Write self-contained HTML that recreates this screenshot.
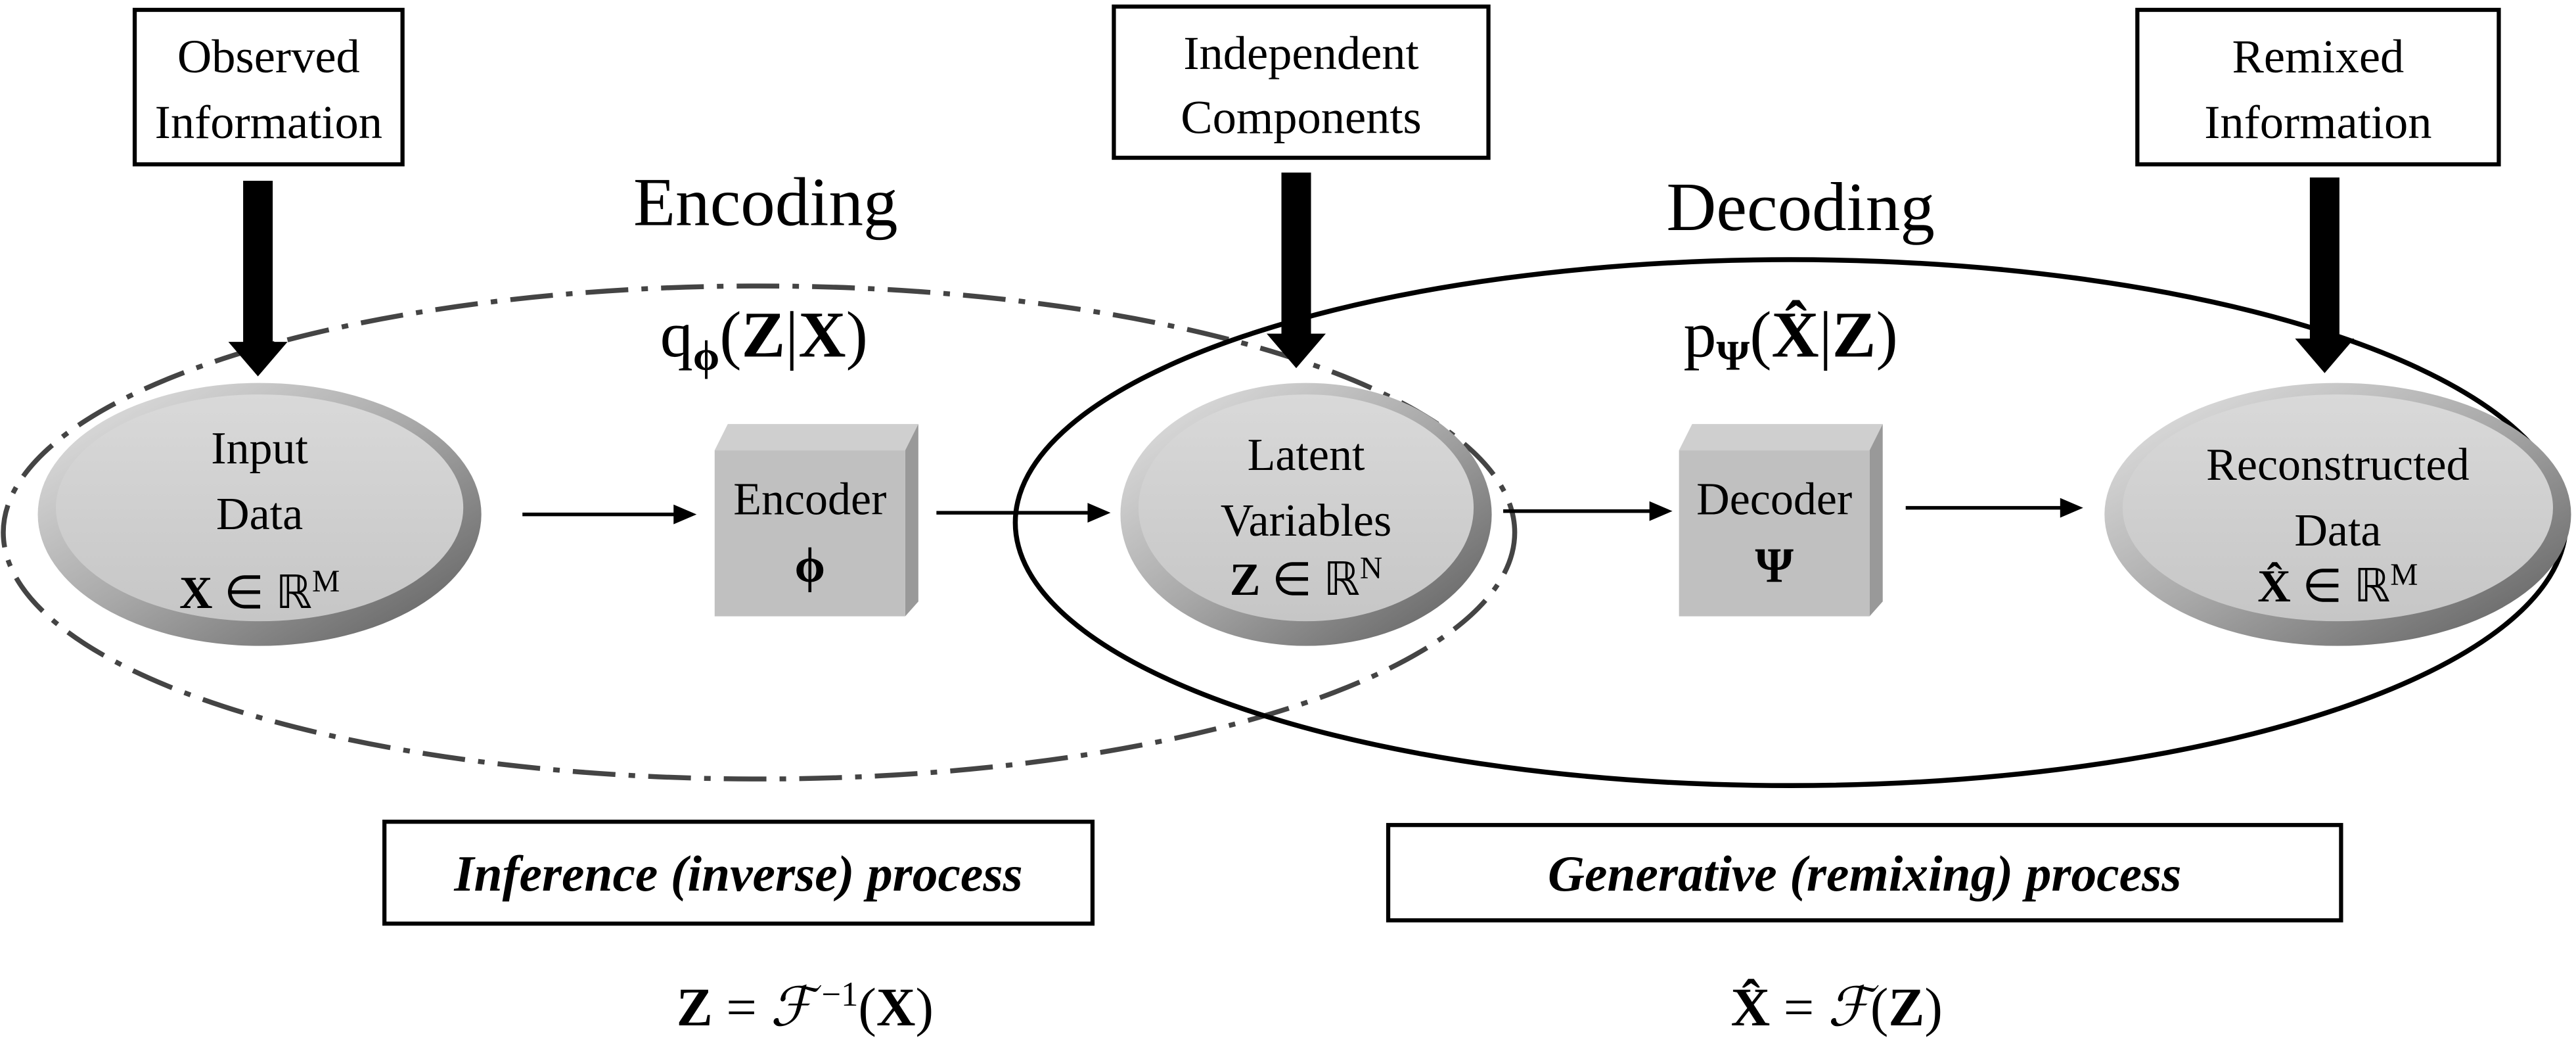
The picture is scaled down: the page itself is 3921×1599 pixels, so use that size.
<!DOCTYPE html>
<html><head><meta charset="utf-8"><style>
html,body{margin:0;padding:0;background:#fff;width:3921px;height:1599px;overflow:hidden}
svg{display:block}
text{font-family:"Liberation Serif",serif;fill:#000}
</style></head><body>
<svg width="3921" height="1599" viewBox="0 0 1568 639.5" preserveAspectRatio="none" xmlns="http://www.w3.org/2000/svg">
<defs>
<linearGradient id="ring" x1="0" y1="0" x2="1" y2="1">
<stop offset="0" stop-color="#e8e8e8"/><stop offset="0.5" stop-color="#a8a8a8"/><stop offset="1" stop-color="#5a5a5a"/>
</linearGradient>
<linearGradient id="face" x1="0" y1="0" x2="0" y2="1">
<stop offset="0" stop-color="#d9d9d9"/><stop offset="1" stop-color="#c6c6c6"/>
</linearGradient>
</defs>
<rect width="1568" height="639.5" fill="#fff"/>

<ellipse cx="462" cy="324" rx="460" ry="150" fill="none" stroke="#444" stroke-width="3" stroke-dasharray="26 8 4 8"/>
<ellipse cx="1090" cy="318" rx="472" ry="160" fill="none" stroke="#000" stroke-width="3"/>

<rect x="82" y="6" width="163" height="94" fill="#fff" stroke="#000" stroke-width="2.5"/>
<text x="163.5" y="44" font-size="29" text-anchor="middle">Observed</text>
<text x="163.5" y="84" font-size="29" text-anchor="middle">Information</text>
<rect x="678" y="4" width="228" height="92" fill="#fff" stroke="#000" stroke-width="2.5"/>
<text x="792" y="42" font-size="29" text-anchor="middle">Independent</text>
<text x="792" y="81" font-size="29" text-anchor="middle">Components</text>
<rect x="1301" y="6" width="220" height="94" fill="#fff" stroke="#000" stroke-width="2.5"/>
<text x="1411" y="44" font-size="29" text-anchor="middle">Remixed</text>
<text x="1411" y="84" font-size="29" text-anchor="middle">Information</text>

<rect x="148" y="110" width="18" height="100" fill="#000"/><polygon points="139,208 175,208 157,229" fill="#000"/>
<rect x="780" y="105" width="18" height="100" fill="#000"/><polygon points="771,203 807,203 789,224" fill="#000"/>
<rect x="1406" y="108" width="18" height="100" fill="#000"/><polygon points="1397,206 1433,206 1415,227" fill="#000"/>

<text x="466" y="137" font-size="42" text-anchor="middle">Encoding</text>
<text x="1096" y="140" font-size="42" text-anchor="middle">Decoding</text>
<text x="465" y="217" font-size="40" text-anchor="middle">q<tspan font-size="26" font-weight="bold" dy="8">ϕ</tspan><tspan dy="-8">(</tspan><tspan font-weight="bold">Z</tspan>|<tspan font-weight="bold">X</tspan>)</text>
<text x="1090" y="217" font-size="40" text-anchor="middle">p<tspan font-size="26" font-weight="bold" dy="8">Ψ</tspan><tspan dy="-8">(</tspan><tspan font-weight="bold">X̂</tspan>|<tspan font-weight="bold">Z</tspan>)</text>

<ellipse cx="158" cy="313" rx="135" ry="80" fill="url(#ring)"/>
<ellipse cx="158" cy="309" rx="124" ry="69" fill="url(#face)"/>
<text x="158" y="282" font-size="28" text-anchor="middle">Input</text>
<text x="158" y="322" font-size="28" text-anchor="middle">Data</text>
<text x="158" y="370" font-size="28" text-anchor="middle"><tspan font-weight="bold">X</tspan> ∈ ℝ<tspan font-size="19" dy="-10">M</tspan></text>

<ellipse cx="795" cy="313" rx="113" ry="80" fill="url(#ring)"/>
<ellipse cx="795" cy="309" rx="102" ry="69" fill="url(#face)"/>
<text x="795" y="286" font-size="28" text-anchor="middle">Latent</text>
<text x="795" y="326" font-size="28" text-anchor="middle">Variables</text>
<text x="795" y="362" font-size="28" text-anchor="middle"><tspan font-weight="bold">Z</tspan> ∈ ℝ<tspan font-size="19" dy="-10">N</tspan></text>

<ellipse cx="1423" cy="313" rx="142" ry="80" fill="url(#ring)"/>
<ellipse cx="1423" cy="309" rx="131" ry="69" fill="url(#face)"/>
<text x="1423" y="292" font-size="28" text-anchor="middle">Reconstructed</text>
<text x="1423" y="332" font-size="28" text-anchor="middle">Data</text>
<text x="1423" y="366" font-size="28" text-anchor="middle"><tspan font-weight="bold">X̂</tspan> ∈ ℝ<tspan font-size="19" dy="-10">M</tspan></text>

<polygon points="435,274 443,258 559,258 551,274" fill="#cfcfcf"/>
<polygon points="551,274 559,258 559,366 551,375" fill="#999"/>
<rect x="435" y="274" width="116" height="101" fill="#c0c0c0"/>
<text x="493" y="313" font-size="28" text-anchor="middle">Encoder</text>
<text x="493" y="354" font-size="30" font-weight="bold" text-anchor="middle">ϕ</text>

<polygon points="1022,274 1030,258 1146,258 1138,274" fill="#cfcfcf"/>
<polygon points="1138,274 1146,258 1146,366 1138,375" fill="#999"/>
<rect x="1022" y="274" width="116" height="101" fill="#c0c0c0"/>
<text x="1080" y="313" font-size="28" text-anchor="middle">Decoder</text>
<text x="1080" y="354" font-size="30" font-weight="bold" text-anchor="middle">Ψ</text>

<g stroke="#000" stroke-width="2.2">
<line x1="318" y1="313" x2="412" y2="313"/>
<line x1="570" y1="312" x2="664" y2="312"/>
<line x1="915" y1="311" x2="1006" y2="311"/>
<line x1="1160" y1="309" x2="1256" y2="309"/>
</g>
<g fill="#000">
<polygon points="410,307 424,313 410,319"/>
<polygon points="662,306 676,312 662,318"/>
<polygon points="1004,305 1018,311 1004,317"/>
<polygon points="1254,303 1268,309 1254,315"/>
</g>

<rect x="234" y="500" width="431" height="62" fill="#fff" stroke="#000" stroke-width="2.5"/>
<text x="449.5" y="542" font-size="31" font-weight="bold" font-style="italic" text-anchor="middle">Inference (inverse) process</text>
<rect x="845" y="502" width="580" height="58" fill="#fff" stroke="#000" stroke-width="2.5"/>
<text x="1135" y="542" font-size="31" font-weight="bold" font-style="italic" text-anchor="middle">Generative (remixing) process</text>

<text x="490" y="624" font-size="33" text-anchor="middle"><tspan font-weight="bold">Z</tspan> = <tspan font-style="italic">ℱ</tspan><tspan font-size="21" dy="-12"> −1</tspan><tspan dy="12">(</tspan><tspan font-weight="bold">X</tspan>)</text>
<text x="1118" y="624" font-size="33" text-anchor="middle"><tspan font-weight="bold">X̂</tspan> = <tspan font-style="italic">ℱ</tspan>(<tspan font-weight="bold">Z</tspan>)</text>
</svg>
</body></html>
